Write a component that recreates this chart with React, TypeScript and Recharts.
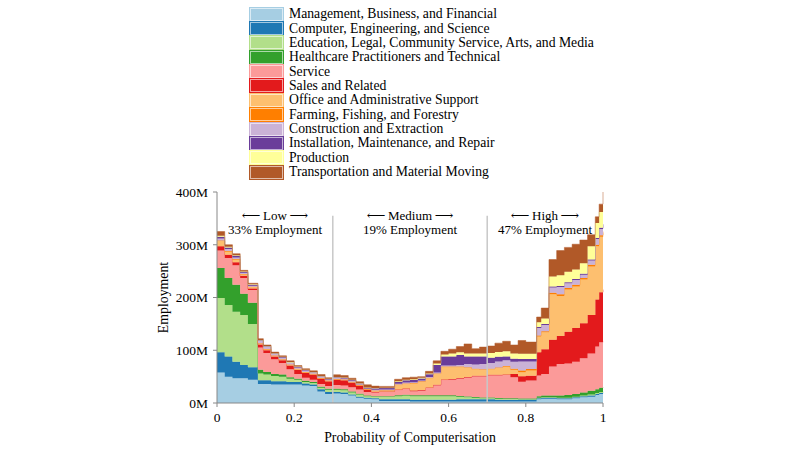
import React from "react";
import { AreaChart, Area, XAxis, YAxis, ReferenceLine } from "recharts";

// probability of computerisation (bin start)
const xs = [0, 0.02, 0.04, 0.06, 0.08, 0.106, 0.12, 0.14, 0.16, 0.18, 0.2, 0.22, 0.24, 0.26, 0.28, 0.3, 0.32, 0.34, 0.36, 0.38, 0.4, 0.42, 0.44, 0.46, 0.48, 0.5, 0.52, 0.54, 0.56, 0.58, 0.6, 0.62, 0.64, 0.66, 0.68, 0.7, 0.72, 0.74, 0.76, 0.78, 0.8, 0.828, 0.84, 0.86, 0.88, 0.9, 0.92, 0.94, 0.96, 0.98, 0.99, 1];

// employment per group, millions
const mgmt = [58, 50, 47, 47, 44, 36, 36, 35, 35, 35, 35, 33, 32, 22, 17, 18, 17, 14, 10, 8, 7, 4, 4, 4, 4, 3, 3, 3, 3, 3, 3, 3, 3, 3, 3, 3, 3, 3, 3, 3, 3, 7, 8, 8, 7, 7, 9, 11, 12, 15, 17, 18];
const computer = [38, 38, 31, 25, 24, 7, 7, 6, 6, 5, 5, 4, 3, 4, 4, 3, 3, 2, 2, 2, 2, 3, 3, 3, 3, 3, 3, 3, 3, 3, 3, 4, 4, 4, 4, 4, 3, 3, 3, 3, 3, 2, 2, 2, 2, 2, 2, 2, 2, 2, 2, 2];
const education = [103, 98, 95, 95, 82, 13, 11, 10, 9, 6, 4, 3, 3, 3, 4, 4, 4, 4, 4, 3, 3, 5, 5, 6, 7, 7, 7, 7, 7, 7, 7, 5, 4, 3, 2, 2, 2, 1.5, 1.5, 1, 1, 1, 1, 1, 1, 1, 1, 1, 2, 2, 2, 2];
const healthcare = [57, 51, 51, 40, 40, 7, 5, 4, 4, 3, 2, 2, 2, 2, 2, 2, 2, 2, 1.5, 1, 1, 1, 1, 1.5, 1.5, 1.5, 1.5, 1.5, 1.5, 1.5, 1.5, 1.5, 1.5, 1.5, 1.5, 1.5, 1.5, 1.5, 1.5, 1.5, 1.5, 3, 3, 3, 4, 5, 5, 6, 7, 7, 8, 8];
const service = [33, 38, 37, 30, 24, 42, 36, 28, 22, 15, 9, 6, 4, 5, 5, 7, 7, 8, 8, 7, 7, 8, 8, 10, 11, 8, 9, 14, 19, 29, 30, 33, 36, 39, 40, 42, 43, 44, 40, 32, 34, 39, 41, 55, 60, 60, 61, 65, 71, 81, 86, 88];
const sales = [8, 6, 6, 4, 3, 6, 5, 5, 5, 7, 8, 9, 10, 10, 9, 10, 10, 9, 7, 4, 1.5, 1, 1, 1, 1, 1, 1, 1, 1, 1, 1, 1, 1, 1, 1, 1, 1, 1, 6, 10, 9, 44, 47, 51, 53, 60, 64, 66, 73, 89, 95, 97];
const office = [10, 6, 5, 3, 3, 2, 2, 1.5, 1.5, 1.5, 1.5, 1.5, 1, 1, 1, 1, 1, 1, 1, 1, 1.5, 1.5, 1.5, 9, 9, 14, 16, 18, 21, 24, 23, 21, 18, 13, 12, 11, 13, 15, 8, 8, 10, 30, 32, 86, 76, 80, 79, 83, 92, 101, 105, 107];
const farming = [1, 1, 1, 0.5, 0.5, 0.5, 0.5, 0.5, 0.5, 0.5, 0.5, 0.5, 0.5, 0.5, 0.5, 0.5, 0.5, 0.5, 0.5, 0.5, 0.5, 0.5, 0.5, 0.5, 0.5, 0.5, 0.5, 0.5, 0.5, 0.5, 0.5, 0.5, 0.5, 0.5, 0.5, 0.5, 1, 1, 2, 3, 3, 2, 2, 3, 3, 3, 3, 3, 3, 3, 3, 3];
const construction = [4, 4, 3, 2.5, 2, 4, 3.5, 3, 3, 3, 2.5, 2.5, 2, 2, 2, 2, 2, 1.5, 1.5, 1, 1.5, 1.5, 1.5, 1.5, 2, 1.5, 1.5, 1.5, 2, 2, 2, 3, 6, 8, 10, 11, 11, 11, 13, 17, 14, 14, 12, 10, 14, 9, 9, 6, 8, 11, 12, 12];
const installation = [3, 3, 3, 1.5, 1.5, 1.5, 1.5, 1, 1, 1, 1, 1, 1, 1, 1, 1.5, 1.5, 1.5, 1.5, 1.5, 3, 3, 3, 3.5, 4, 4, 4, 5, 14, 17, 17, 19, 14, 15, 14, 10, 9, 7, 6, 5, 5, 2, 2, 2, 2, 2, 2, 2, 2, 2, 2, 2];
const production = [2, 1, 1, 1, 1, 0.5, 0.5, 0.5, 0.5, 0.5, 0.5, 0.5, 0.5, 0.5, 0.5, 0.5, 0.5, 0.5, 0.5, 0.5, 0.5, 0.5, 0.5, 1, 1, 1.5, 1.5, 1.5, 3, 4, 6, 5, 6, 6, 6, 9, 9, 10, 10, 10, 10, 9, 10, 19, 20, 20, 18, 20, 25, 28, 30, 35];
const transport = [8, 4, 3, 2, 2, 2.5, 2, 2, 2, 2.5, 2, 2, 2, 3, 2, 4, 3.5, 3, 3, 5, 3.5, 2.5, 2.5, 4, 4, 4, 2, 4, 5, 6, 8, 11, 18, 9, 12, 13, 17, 19, 16, 25, 22, 10, 20, 32, 47, 46, 48, 44, 22, 12, 15, 26];

const groups = [
  { key: "mgmt", name: "Management, Business, and Financial", color: "#a6cee3", values: mgmt },
  { key: "computer", name: "Computer, Engineering, and Science", color: "#1f78b4", values: computer },
  { key: "education", name: "Education, Legal, Community Service, Arts, and Media", color: "#b2df8a", values: education },
  { key: "healthcare", name: "Healthcare Practitioners and Technical", color: "#33a02c", values: healthcare },
  { key: "service", name: "Service", color: "#fb9a99", values: service },
  { key: "sales", name: "Sales and Related", color: "#e31a1c", values: sales },
  { key: "office", name: "Office and Administrative Support", color: "#fdbf6f", values: office },
  { key: "farming", name: "Farming, Fishing, and Forestry", color: "#ff7f00", values: farming },
  { key: "construction", name: "Construction and Extraction", color: "#cab2d6", values: construction },
  { key: "installation", name: "Installation, Maintenance, and Repair", color: "#6a3d9a", values: installation },
  { key: "production", name: "Production", color: "#ffff99", values: production },
  { key: "transport", name: "Transportation and Material Moving", color: "#b15928", values: transport },
];

const yTicks = [0, 100, 200, 300, 400];
const xTicks = [0, 0.2, 0.4, 0.6, 0.8, 1];

const bands = [
  { label: "Low", share: "33% Employment", center: 275 },
  { label: "Medium", share: "19% Employment", center: 410 },
  { label: "High", share: "47% Employment", center: 545 },
];

const data = xs.map((x, i) => {
  const row: Record<string, number> = { x };
  groups.forEach(g => { row[g.key] = g.values[i]; });
  return row;
});

const FONT = "'Liberation Serif', 'DejaVu Serif', serif";
const AXIS = "#888";

export default function App() {
  return (
    <div style={{ position: "fixed", left: 0, top: 0, width: 800, height: 450, background: "#fff", fontFamily: FONT }}>
      <AreaChart width={800} height={450} data={data} margin={{ top: 192, right: 197, left: 109, bottom: 0 }}>
        <XAxis
          dataKey="x"
          type="number"
          domain={[0, 1]}
          ticks={xTicks}
          tickFormatter={(v: number) => String(v)}
          stroke={AXIS}
          tickSize={4}
          tickMargin={5}
          height={47}
          tick={{ fill: "#000", fontSize: 13.5, fontFamily: FONT }}
          label={{ value: "Probability of Computerisation", position: "insideBottom", offset: 8, fill: "#000", fontSize: 13.8, fontFamily: FONT }}
        />
        <YAxis
          type="number"
          domain={[0, 400]}
          ticks={yTicks}
          tickFormatter={(v: number) => `${v}M`}
          stroke={AXIS}
          tickSize={4}
          tickMargin={5}
          width={108}
          tick={{ fill: "#000", fontSize: 13.5, fontFamily: FONT }}
          label={{ value: "Employment", angle: -90, position: "center", fill: "#000", fontSize: 13.8, fontFamily: FONT }}
        />
        {groups.map(g => (
          <Area
            key={g.key}
            type="stepAfter"
            dataKey={g.key}
            name={g.name}
            stackId="1"
            fill={g.color}
            fillOpacity={1}
            stroke={g.color}
            strokeWidth={0.5}
            dot={false}
            activeDot={false}
            isAnimationActive={false}
          />
        ))}
        <ReferenceLine segment={[{ x: 0.3, y: 0 }, { x: 0.3, y: 355 }]} stroke="#c8c8c8" strokeWidth={1.5} />
        <ReferenceLine segment={[{ x: 0.7, y: 0 }, { x: 0.7, y: 355 }]} stroke="#c8c8c8" strokeWidth={1.5} />
      </AreaChart>

      {bands.map(b => (
        <div key={b.label} style={{ position: "absolute", left: b.center - 80, top: 209, width: 160, textAlign: "center", fontSize: 13, lineHeight: "13.5px", color: "#000" }}>
          <div style={{ whiteSpace: "nowrap" }}>{`⟵\u2009${b.label}\u2009⟶`}</div>
          <div>{b.share}</div>
        </div>
      ))}

      <div style={{ position: "absolute", left: 250, top: 7 }}>
        {groups.map(g => (
          <div key={g.key} style={{ display: "flex", alignItems: "center", height: 14.36, fontSize: 13.7, color: "#000", whiteSpace: "nowrap" }}>
            <span style={{ display: "inline-block", width: 31, height: 11, background: g.color, border: "1px solid rgba(255,255,255,0.6)", outline: `1px solid ${g.color}`, marginRight: 6 }} />
            {g.name}
          </div>
        ))}
      </div>
    </div>
  );
}
